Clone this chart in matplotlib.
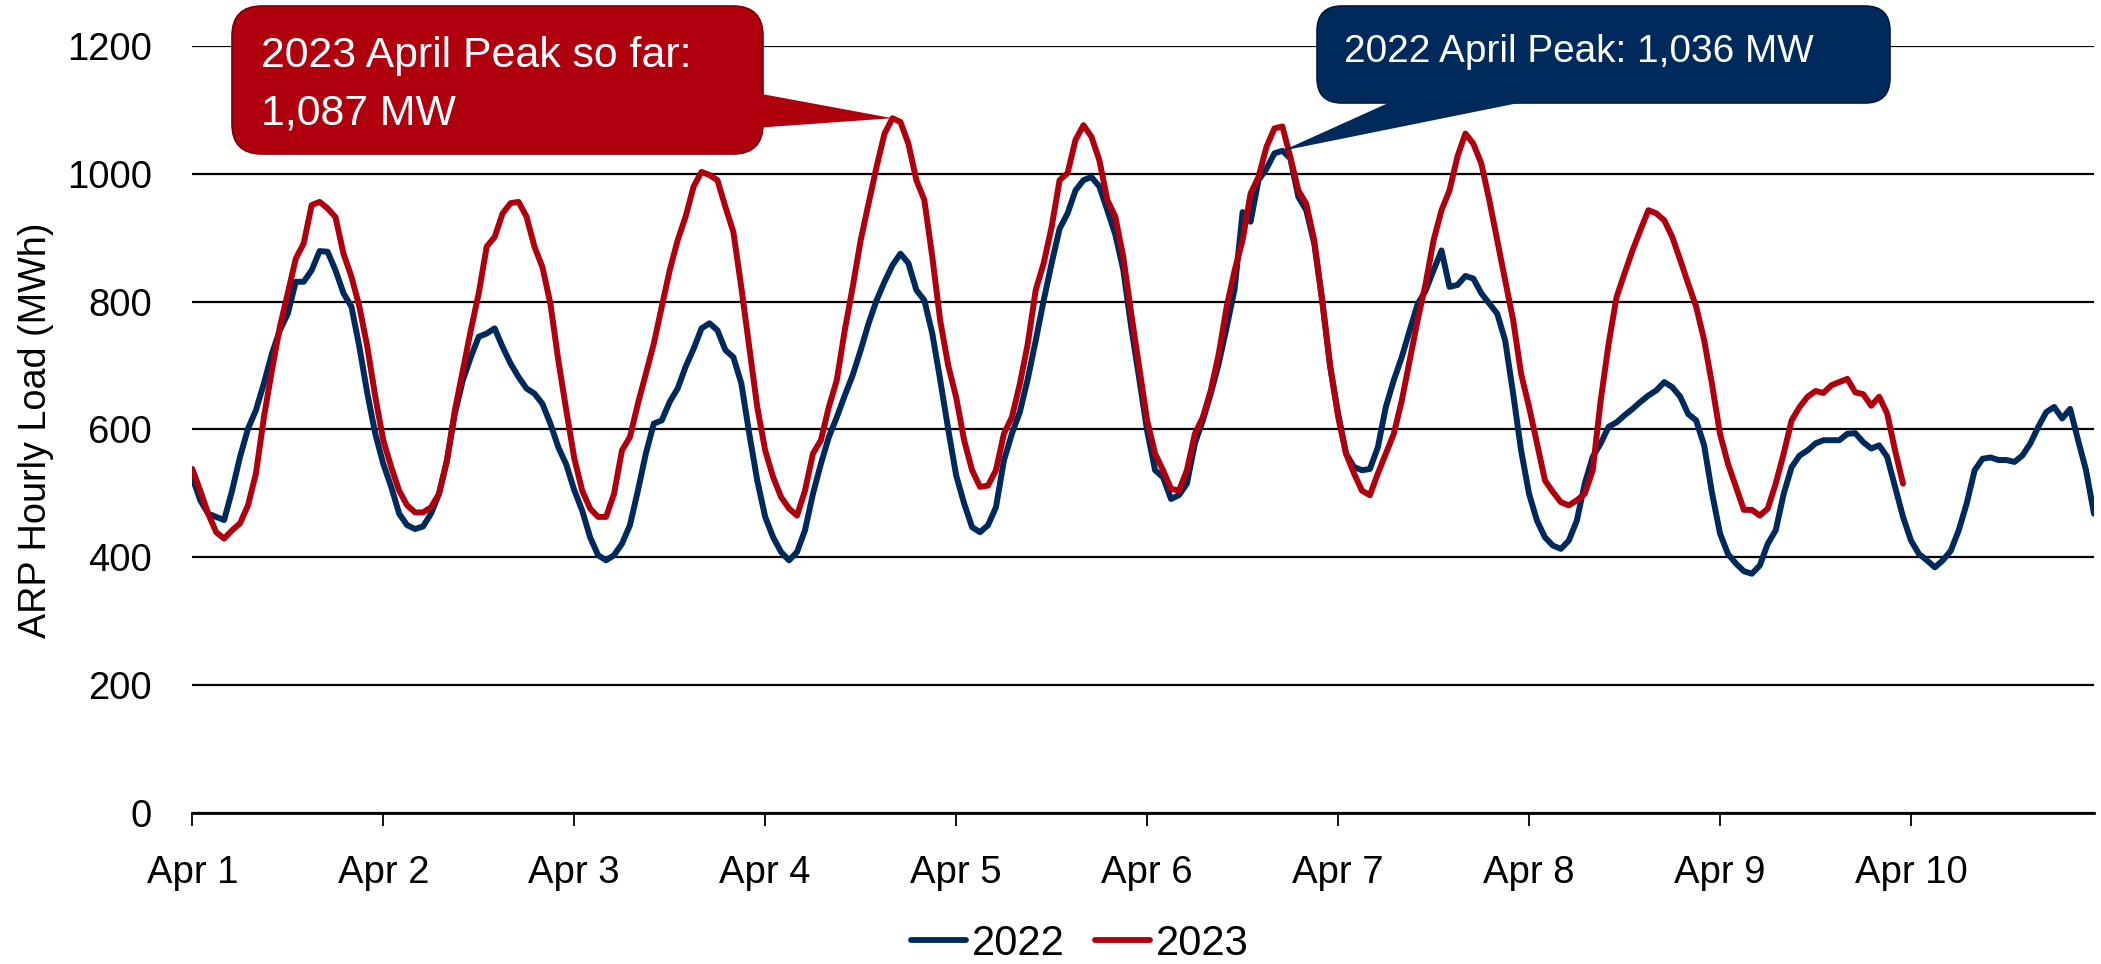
import numpy as np
import matplotlib
matplotlib.use("Agg")
import matplotlib.pyplot as plt
from matplotlib.patches import FancyBboxPatch, Polygon

# hourly load, Apr 1 00:00 onwards (MWh)
load_2022 = [
    525, 489, 468, 463, 458, 504, 557, 601, 630, 672, 718, 755, 781, 831, 831, 849, 879, 878, 849, 813, 792, 729, 656, 593,
    546, 510, 468, 450, 444, 448, 468, 499, 551, 625, 677, 713, 745, 750, 758, 729, 703, 682, 664, 656, 640, 609, 572, 545,
    505, 473, 431, 403, 395, 403, 421, 450, 504, 562, 609, 614, 643, 664, 698, 726, 758, 766, 755, 724, 713, 672, 593, 520,
    463, 431, 408, 395, 408, 442, 499, 546, 588, 619, 653, 685, 724, 766, 802, 831, 857, 875, 860, 818, 802, 750, 677, 600,
    528, 484, 447, 439, 450, 478, 551, 593, 627, 679, 739, 802, 860, 914, 938, 974, 990, 995, 980, 943, 905, 850, 760, 680,
    598, 536, 525, 491, 497, 515, 578, 614, 656, 703, 760, 820, 940, 925, 990, 1008, 1032, 1036, 1024, 964, 943, 891, 802, 698,
    625, 562, 541, 536, 538, 572, 635, 677, 713, 755, 796, 817, 849, 880, 823, 826, 840, 836, 813, 797, 781, 739, 656, 567,
    499, 457, 431, 418, 413, 426, 457, 515, 557, 578, 604, 611, 622, 632, 643, 653, 661, 674, 666, 651, 624, 614, 575, 500,
    437, 405, 390, 378, 374, 387, 421, 442, 499, 541, 559, 567, 578, 583, 583, 583, 593, 594, 580, 570, 575, 557, 510, 463,
    426, 405, 395, 384, 395, 410, 442, 484, 536, 554, 556, 552, 552, 549, 559, 578, 604, 627, 635, 617, 632, 583, 536, 468,
]
load_2023 = [
    538, 504, 468, 439, 429, 442, 453, 481, 531, 619, 692, 760, 813, 867, 891, 951, 956, 946, 932, 875, 839, 792, 729, 651,
    583, 541, 504, 481, 470, 470, 478, 499, 551, 630, 692, 755, 813, 886, 901, 938, 954, 956, 933, 886, 854, 797, 708, 630,
    555, 504, 476, 463, 463, 499, 567, 588, 640, 687, 734, 792, 849, 896, 933, 980, 1003, 998, 990, 948, 909, 822, 729, 635,
    567, 525, 494, 476, 465, 504, 562, 583, 635, 677, 755, 823, 896, 954, 1011, 1063, 1087, 1081, 1047, 990, 959, 870, 770, 700,
    650, 583, 536, 510, 512, 536, 593, 619, 671, 734, 818, 860, 917, 990, 1001, 1053, 1076, 1058, 1021, 959, 933, 870, 781, 698,
    614, 562, 536, 507, 504, 536, 593, 619, 661, 718, 792, 849, 896, 969, 995, 1042, 1071, 1074, 1026, 974, 953, 896, 802, 700,
    620, 562, 531, 504, 497, 531, 562, 593, 645, 708, 771, 828, 896, 943, 974, 1027, 1063, 1047, 1016, 959, 896, 833, 771, 687,
    635, 578, 520, 502, 486, 481, 489, 499, 536, 645, 734, 807, 844, 880, 912, 943, 938, 927, 901, 865, 828, 792, 740, 670,
    593, 546, 510, 474, 474, 465, 476, 515, 562, 614, 635, 651, 660, 657, 669, 674, 679, 658, 655, 637, 651, 625, 567, 515,
]
day_labels = ["Apr 1", "Apr 2", "Apr 3", "Apr 4", "Apr 5", "Apr 6", "Apr 7", "Apr 8", "Apr 9", "Apr 10"]
y_ticks = [0, 200, 400, 600, 800, 1000, 1200]

navy = "#002A5C"
red = "#B0000E"

plt.rcParams["font.family"] = ["Liberation Sans", "DejaVu Sans"]

W, H = 2101, 964
fig = plt.figure(figsize=(W / 100, H / 100), dpi=100)
ax = fig.add_axes([192.3 / W, 1 - 812.7 / H, (2094 - 192.3) / W, (812.7 - 46) / H])

h22 = np.arange(len(load_2022))
h23 = np.arange(len(load_2023))
ax.plot(h22, load_2022, color=navy, lw=4.3, solid_joinstyle="round", solid_capstyle="round", label="2022", zorder=3)
ax.plot(h23, load_2023, color=red, lw=4.3, solid_joinstyle="round", solid_capstyle="round", label="2023", zorder=4)

ax.set_xlim(0, len(load_2022) - 1)
ax.set_ylim(0, 1200)
ax.set_yticks(y_ticks)
ax.set_xticks(np.arange(len(day_labels)) * 24)
ax.set_xticklabels(day_labels)
ax.yaxis.grid(True, color="black", lw=1.6)
ax.set_axisbelow(True)
for s in ["top", "right", "left"]:
    ax.spines[s].set_visible(False)
ax.spines["bottom"].set_linewidth(2.0)
ax.tick_params(axis="y", length=0, pad=29, labelsize=27.5)
ax.tick_params(axis="x", direction="out", length=9.4, width=1.3, pad=21, labelsize=27.5)

fig.text(36 / W, 1 - 430 / H, "ARP Hourly Load (MWh)", rotation=90, ha="center", va="center", fontsize=27.2)

leg = fig.legend(loc="center", bbox_to_anchor=(1080 / W, 1 - 944 / H), ncol=2, frameon=False, fontsize=30,
                 handlelength=1.32, handletextpad=0.15, columnspacing=0.72)
for ln in leg.get_lines():
    ln.set_linewidth(4.2)
    ln.set_solid_capstyle("round")


# callout boxes, drawn in pixel units (origin at top-left, converted to inches)
def px(x, y):
    return (x / 100, (H - y) / 100)


def tip_of(x, y):
    disp = ax.transData.transform((x, y))
    return fig.dpi_scale_trans.inverted().transform(disp)


tr = fig.dpi_scale_trans

i23 = int(np.argmax(load_2023))
x0, y0 = px(232, 154)
box = FancyBboxPatch((x0, y0), (763 - 232) / 100, (154 - 6) / 100, boxstyle="round,pad=0,rounding_size=0.3",
                     fc=red, ec="#7A0008", lw=1.2, transform=tr, clip_on=False, zorder=6)
ax.add_patch(box)
wedge = Polygon([px(740, 90), px(740, 129), tip_of(h23[i23], load_2023[i23])], closed=True,
                fc=red, ec="none", transform=tr, clip_on=False, zorder=6)
ax.add_patch(wedge)
fig.text(261 / W, 1 - 67 / H, "2023 April Peak so far:", color="white", fontsize=30.8, va="baseline", zorder=7)
fig.text(261 / W, 1 - 125 / H, "1,087 MW", color="white", fontsize=30.8, va="baseline", zorder=7)

i22 = int(np.argmax(load_2022))
x0, y0 = px(1317, 103)
box = FancyBboxPatch((x0, y0), (1890 - 1317) / 100, (103 - 6) / 100, boxstyle="round,pad=0,rounding_size=0.25",
                     fc=navy, ec="#001A3C", lw=1.2, transform=tr, clip_on=False, zorder=6)
ax.add_patch(box)
wedge = Polygon([px(1406, 95), px(1558, 95), tip_of(h22[i22], load_2022[i22])], closed=True,
                fc=navy, ec="none", transform=tr, clip_on=False, zorder=6)
ax.add_patch(wedge)
fig.text(1344 / W, 1 - 62 / H, "2022 April Peak: 1,036 MW", color="white", fontsize=27.9, va="baseline", zorder=7)

fig.savefig("out.png", dpi=100)
